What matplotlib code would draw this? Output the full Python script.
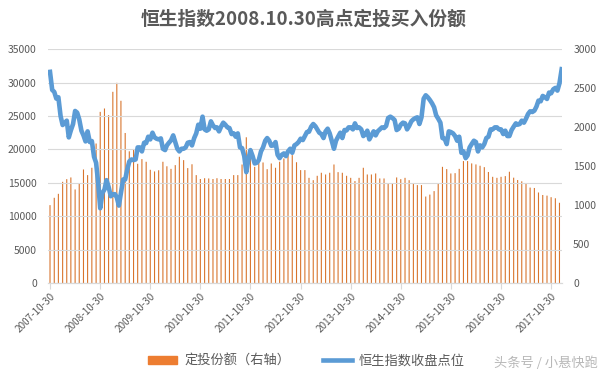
import numpy as np
import pandas as pd
import matplotlib
matplotlib.use('Agg')
import matplotlib.pyplot as plt
import matplotlib.patches as mpatches

plt.rcParams['font.family'] = ['Noto Sans CJK SC', 'DejaVu Sans']

# 定投份额（右轴）, one bar per month starting 2007-10-30
shares = [
    1000, 1094, 1145, 1299, 1333, 1355, 1201, 1274, 1457, 1385, 1479, 1790,
    2196, 2239, 2154, 2453, 2568, 2338, 1925, 1690, 1720, 1530, 1590, 1556,
    1453, 1432, 1447, 1556, 1498, 1465, 1513, 1620, 1577, 1475, 1524, 1385,
    1335, 1345, 1342, 1335, 1345, 1335, 1335, 1335, 1385, 1385, 1521, 1870,
    1641, 1491, 1598, 1547, 1461, 1534, 1479, 1556, 1598, 1641, 1641, 1550,
    1449, 1449, 1350, 1320, 1376, 1415, 1393, 1415, 1521, 1423, 1415, 1376,
    1350, 1308, 1350, 1479, 1393, 1393, 1406, 1342, 1342, 1278, 1278, 1355,
    1333, 1350, 1320, 1278, 1257, 1257, 1110, 1135, 1180, 1278, 1491, 1462,
    1406, 1410, 1465, 1565, 1565, 1535, 1522, 1505, 1487, 1425, 1363, 1350,
    1363, 1372, 1428, 1352, 1322, 1305, 1280, 1225, 1220, 1162, 1130, 1122,
    1102, 1088, 1030,
]

# 恒生指数收盘点位, twice a month (30th and 15th) from 2007-10-30
hsi = [
    31600, 28900, 28600, 27600, 27800,
    # 2008
    25000, 23650, 24000, 24300, 21800, 22850, 23800, 25750, 25500, 24500, 22800, 22100,
    21200, 22700, 21100, 21250, 18900, 18000, 15000, 11200, 13500, 14000, 15400, 14400,
    # 2009
    13000, 13300, 13300, 12800, 11600, 13500, 15500, 15500, 17000, 18200, 18500, 18400,
    18500, 20300, 20300, 19700, 21000, 20950, 21900, 21500, 22500, 21800, 21600, 21500,
    # 2010
    21650, 20100, 19900, 20600, 21000, 21350, 22100, 21100, 20100, 19700, 20100, 20100,
    20300, 21000, 21100, 20600, 21700, 22400, 23700, 23100, 24900, 23000, 22800, 23000,
    # 2011
    24200, 23600, 23200, 23300, 22700, 23400, 24000, 23700, 23300, 23200, 22300, 22400,
    21900, 22400, 20300, 20200, 19000, 16600, 18500, 19900, 19000, 17900, 18000, 18400,
    # 2012
    19700, 20300, 21300, 21700, 21300, 20550, 20600, 21100, 19200, 18700, 19200, 19400,
    19000, 19700, 20100, 19500, 20600, 20800, 21100, 21600, 21400, 22000, 22600, 22650,
    # 2013
    23400, 23800, 23450, 23000, 22500, 22300, 21700, 22700, 23100, 22400, 21200, 20100,
    21300, 21900, 22500, 21700, 22900, 22850, 23300, 23300, 23000, 23900, 23200, 23300,
    # 2014
    23000, 22000, 22300, 22800, 21500, 22100, 22700, 22100, 22700, 23000, 23300, 23200,
    23500, 24700, 24900, 24700, 24400, 22900, 23100, 23700, 24000, 23900, 23000, 23500,
    # 2015
    24200, 24500, 24700, 24800, 23800, 24800, 27600, 28100, 27800, 27400, 26900, 26300,
    25100, 24600, 24000, 21700, 21600, 20800, 22700, 22600, 22400, 22000, 21300, 21900,
    # 2016
    19500, 19700, 18700, 19100, 20300, 20800, 21300, 21100, 19700, 20600, 20300, 20800,
    21700, 21900, 23000, 23000, 23300, 23300, 23000, 23000, 22300, 22800, 22000, 22000,
    # 2017
    22900, 23400, 23900, 23700, 23800, 24300, 24000, 24600, 25300, 25700, 25600, 25800,
    26400, 27300, 27200, 28000, 27800, 27550, 28500, 28400, 29000, 29200, 28800, 29900,
    # 2018
    32000,
]

tick_years = list(range(2007, 2018))
title = '恒生指数2008.10.30高点定投买入份额'


def month_day(m, day):
    d = pd.Timestamp('2007-10-01') + pd.DateOffset(months=m)
    return d.replace(day=min(day, d.days_in_month))


bar_dates = [month_day(m, 30) for m in range(len(shares))]
line_dates = [month_day(i // 2, 30) if i % 2 == 0 else month_day(i // 2 + 1, 15)
              for i in range(len(hsi))]

grey = '#595959'
orange = '#ED7D31'
fig = plt.figure(figsize=(6.07, 3.78), dpi=100)
ax = fig.add_axes([0.079, 0.251, 0.847, 0.619])
ax2 = ax.twinx()

# thin bars (about one pixel), no snapping so they all look alike
ax2.bar(bar_dates, shares, width=8, color='#D8742C', linewidth=0, snap=False)
line, = ax.plot(line_dates, hsi, color='#5B9BD5', linewidth=3.3,
                solid_joinstyle='round')

ax.set_zorder(ax2.get_zorder() + 1)
ax.patch.set_visible(False)

ax.set_ylim(0, 35000)
ax.set_yticks(np.arange(0, 35001, 5000))
ax2.set_ylim(0, 3000)
ax2.set_yticks(np.arange(0, 3001, 500))
ax.set_xlim(pd.Timestamp('2007-10-15'), pd.Timestamp('2018-01-18'))

ticks = [pd.Timestamp(f'{y}-10-30') for y in tick_years]
ax.set_xticks(ticks)
ax.set_xticklabels([t.strftime('%Y-%m-%d') for t in ticks], rotation=45,
                   ha='right', rotation_mode='anchor')

ax.grid(axis='y', color='#d9d9d9', linewidth=0.8)
for a in (ax, ax2):
    for s in ('top', 'left', 'right'):
        a.spines[s].set_visible(False)
    a.spines['bottom'].set_color('#d9d9d9')
ax.tick_params(axis='y', length=0, labelsize=7.5, labelcolor=grey, pad=8)
ax2.tick_params(axis='y', length=0, labelsize=7.5, labelcolor=grey, pad=8)
ax.tick_params(axis='x', length=4, color='#d9d9d9', labelsize=7.2,
               labelcolor=grey, pad=2)

fig.text(0.5, 0.95, title, ha='center', va='center', fontsize=13.5,
         fontweight='bold', color=grey)

bar_handle = mpatches.Patch(color=orange)
fig.legend([bar_handle, line], ['定投份额（右轴）', '恒生指数收盘点位'], loc='center',
           bbox_to_anchor=(0.505, 0.045), ncol=2, frameon=False, fontsize=9.5,
           labelcolor=grey, handlelength=2.2, handleheight=0.6,
           handletextpad=0.5, columnspacing=2.5)

fig.text(0.985, 0.04, '头条号 / 小悬快跑', ha='right', va='center',
         fontsize=9.5, color='#b8b8b8')

fig.savefig('out.png', dpi=100)
